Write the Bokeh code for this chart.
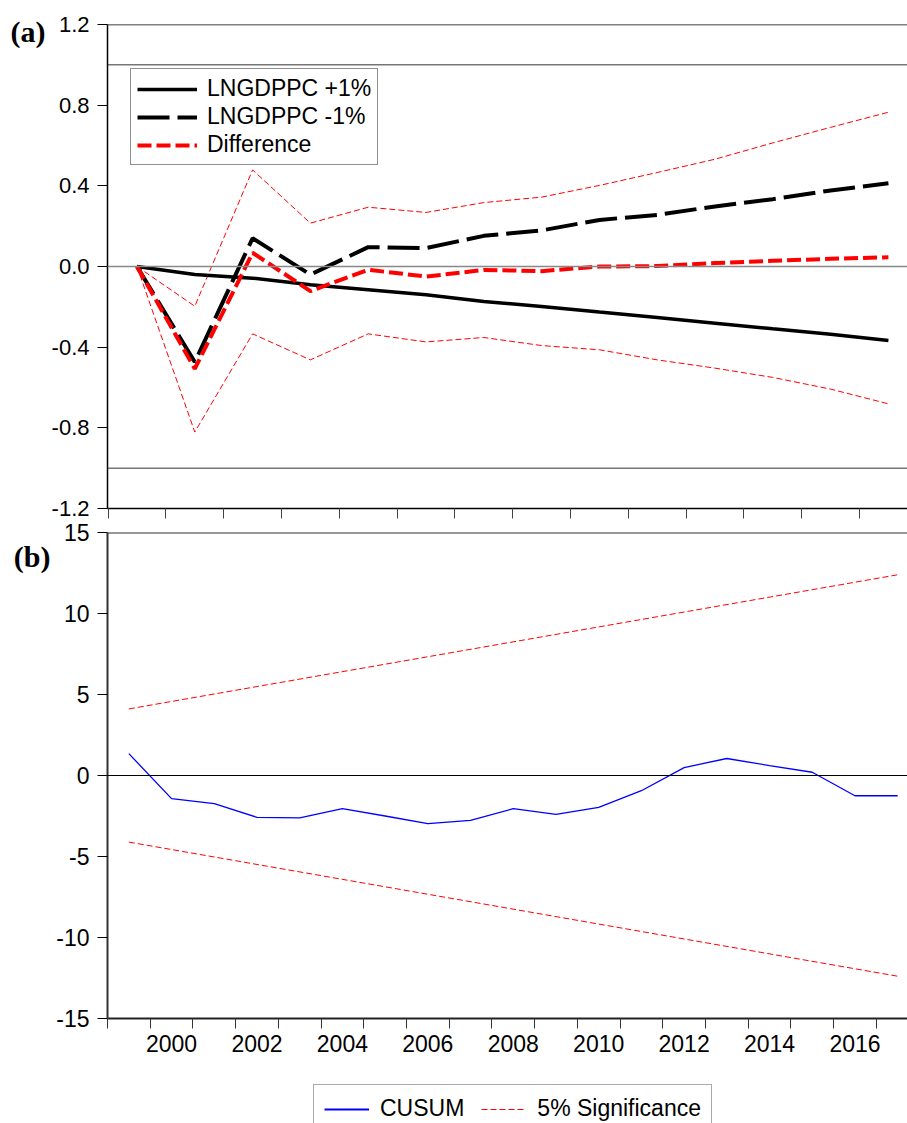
from bokeh.plotting import figure
from bokeh.layouts import column
from bokeh.models import (Range1d, FixedTicker, Span, Legend, LegendItem,
                          PrintfTickFormatter, LinearAxis)
from bokeh.embed import file_html
from bokeh.resources import INLINE

# ---------------- data: panel (a) ----------------
periods = [1, 2, 3, 4, 5, 6, 7, 8, 9, 10, 11, 12, 13, 14]
lngdppc_plus1 = [0.0, -0.040, -0.058, -0.090, -0.115, -0.140, -0.174, -0.198,
                 -0.226, -0.253, -0.281, -0.309, -0.336, -0.367]
lngdppc_minus1 = [0.0, -0.474, 0.140, -0.040, 0.096, 0.091, 0.152, 0.179,
                  0.231, 0.256, 0.298, 0.334, 0.377, 0.413]
difference = [0.0, -0.507, 0.068, -0.122, -0.016, -0.050, -0.017, -0.023,
              0.000, 0.002, 0.017, 0.028, 0.038, 0.046]
diff_upper = [0.0, -0.197, 0.479, 0.215, 0.294, 0.268, 0.317, 0.344,
              0.402, 0.466, 0.532, 0.613, 0.690, 0.765]
diff_lower = [0.0, -0.821, -0.334, -0.463, -0.334, -0.374, -0.352, -0.392,
              -0.413, -0.463, -0.504, -0.550, -0.608, -0.681]
a_yticks = [-1.2, -0.8, -0.4, 0.0, 0.4, 0.8, 1.2]
a_xbounds = [0.5, 1.5, 2.5, 3.5, 4.5, 5.5, 6.5, 7.5, 8.5, 9.5, 10.5, 11.5, 12.5, 13.5, 14.5]
a_refs = [1.0, -1.0]
a_tag, a_tag_y = "(a)", 1.165

# ---------------- data: panel (b) ----------------
years = [1999, 2000, 2001, 2002, 2003, 2004, 2005, 2006, 2007, 2008, 2009,
         2010, 2011, 2012, 2013, 2014, 2015, 2016, 2017]
cusum = [1.35, -1.43, -1.74, -2.58, -2.62, -2.05, -2.50, -2.97, -2.77, -2.05,
         -2.40, -1.97, -0.94, 0.49, 1.05, 0.61, 0.20, -1.25, -1.25]
sig_years = [1999, 2017]
sig_upper = [4.11, 12.39]
sig_lower = [-4.11, -12.39]
b_yticks = [-15, -10, -5, 0, 5, 10, 15]
b_year_bounds = list(range(1999, 2019))
b_label_years = [2000, 2002, 2004, 2006, 2008, 2010, 2012, 2014, 2016]
b_tag, b_tag_y = "(b)", 13.5

FONT = "Liberation Sans"
SERIF = "Liberation Serif"
FS = "23px"
RED = "#ff0000"
BLUE = "#0000ff"


def tag_axis(tag, ypos):
    return LinearAxis(ticker=FixedTicker(ticks=[ypos]),
                      major_label_overrides={ypos: tag},
                      axis_line_color=None, major_tick_line_color=None,
                      minor_tick_line_color=None, major_tick_in=0, major_tick_out=0,
                      major_label_standoff=3, major_label_text_font=SERIF,
                      major_label_text_font_style="bold",
                      major_label_text_font_size="30px",
                      major_label_text_color="black")


# ================= panel (a) =================
p1 = figure(width=907, height=520, output_backend="svg", toolbar_location=None,
            title=None,
            x_range=Range1d(0.49, 14.33), y_range=Range1d(-1.2, 1.2),
            min_border_left=107, min_border_right=0, min_border_top=24,
            min_border_bottom=12)
p1.outline_line_color = None
p1.grid.visible = False
p1.background_fill_color = "white"

r_up = p1.line(periods, diff_upper, line_color=RED, line_width=1, line_dash="6 3")
r_lo = p1.line(periods, diff_lower, line_color=RED, line_width=1, line_dash="6 3")
r_p = p1.line(periods, lngdppc_plus1, line_color="black", line_width=3.5)
r_m = p1.line(periods, lngdppc_minus1, line_color="black", line_width=4, line_dash="32 8")
r_d = p1.line(periods, difference, line_color=RED, line_width=4, line_dash="14 5")

p1.add_layout(Span(location=1.2, dimension="width", line_color="black", line_width=1.5))
for yv in a_refs:
    p1.add_layout(Span(location=yv, dimension="width", line_color="#333333", line_width=1))
p1.add_layout(Span(location=0.0, dimension="width", line_color="#888888", line_width=1.5))

p1.yaxis.ticker = FixedTicker(ticks=a_yticks)
p1.yaxis.formatter = PrintfTickFormatter(format="%.1f")
p1.yaxis.major_label_text_font = FONT
p1.yaxis.major_label_text_font_size = "22px"
p1.yaxis.major_label_text_color = "black"
p1.yaxis.major_tick_out = 10
p1.yaxis.major_tick_in = 0
p1.yaxis.minor_tick_line_color = None
p1.yaxis.major_label_standoff = 8
p1.yaxis.axis_line_width = 1.5
p1.yaxis.axis_line_color = "black"
p1.add_layout(tag_axis(a_tag, a_tag_y), "left")

p1.xaxis.ticker = FixedTicker(ticks=[], minor_ticks=a_xbounds)
p1.xaxis.minor_tick_out = 10
p1.xaxis.minor_tick_in = 0
p1.xaxis.minor_tick_line_color = "#444444"
p1.xaxis.major_tick_line_color = None
p1.xaxis.major_label_standoff = 0
p1.xaxis.axis_line_width = 1.5
p1.xaxis.axis_line_color = "black"

leg1 = Legend(items=[LegendItem(label="LNGDPPC +1%", renderers=[r_p]),
                     LegendItem(label="LNGDPPC -1%", renderers=[r_m]),
                     LegendItem(label="Difference", renderers=[r_d])],
              location=(23, 343), orientation="vertical",
              label_text_font=FONT, label_text_font_size=FS,
              label_text_color="black",
              glyph_width=60, glyph_height=22, label_height=22, label_standoff=10,
              spacing=1, padding=6, margin=0,
              border_line_color="#222222", border_line_width=1,
              background_fill_color="white", background_fill_alpha=1.0)
p1.add_layout(leg1)

# ================= panel (b) =================
p2 = figure(width=907, height=558, output_backend="svg", toolbar_location=None,
            title=None,
            x_range=Range1d(1999.0, 2017.73), y_range=Range1d(-15, 15),
            min_border_left=106, min_border_right=0, min_border_top=12,
            min_border_bottom=60)
p2.outline_line_color = None
p2.grid.visible = False
p2.background_fill_color = "white"

xs_mid = [y + 0.5 for y in years]
sig_mid = [y + 0.5 for y in sig_years]
p2.line(sig_mid, sig_upper, line_color=RED, line_width=1, line_dash="6 3")
p2.line(sig_mid, sig_lower, line_color=RED, line_width=1, line_dash="6 3")
p2.line(xs_mid, cusum, line_color=BLUE, line_width=1.3)

p2.add_layout(Span(location=15, dimension="width", line_color="#333333", line_width=2))
p2.add_layout(Span(location=0, dimension="width", line_color="black", line_width=1))

p2.yaxis.ticker = FixedTicker(ticks=b_yticks)
p2.yaxis.formatter = PrintfTickFormatter(format="%d")
p2.yaxis.major_label_text_font = FONT
p2.yaxis.major_label_text_font_size = FS
p2.yaxis.major_label_text_color = "black"
p2.yaxis.major_tick_out = 10
p2.yaxis.major_tick_in = 0
p2.yaxis.minor_tick_line_color = None
p2.yaxis.major_label_standoff = 8
p2.yaxis.axis_line_width = 2
p2.yaxis.axis_line_color = "#333333"
p2.add_layout(tag_axis(b_tag, b_tag_y), "left")

label_pos = [y + 0.5 for y in b_label_years]
p2.xaxis.ticker = FixedTicker(ticks=label_pos, minor_ticks=b_year_bounds)
p2.xaxis.major_label_overrides = {pos: str(yr) for pos, yr in zip(label_pos, b_label_years)}
p2.xaxis.major_tick_line_color = None
p2.xaxis.major_tick_out = 10
p2.xaxis.major_tick_in = 0
p2.xaxis.minor_tick_out = 10
p2.xaxis.minor_tick_in = 0
p2.xaxis.minor_tick_line_color = "#333333"
p2.xaxis.major_label_standoff = 6
p2.xaxis.major_label_text_font = FONT
p2.xaxis.major_label_text_font_size = FS
p2.xaxis.major_label_text_color = "black"
p2.xaxis.axis_line_width = 2
p2.xaxis.axis_line_color = "#222222"

# ================= legend strip under panel (b) =================
# proxy lines (same series, kept outside this strip's visible range) for the legend keys
p3 = figure(width=907, height=45, output_backend="svg", toolbar_location=None,
            title=None, x_axis_location=None, y_axis_location=None,
            x_range=Range1d(0, 1), y_range=Range1d(0, 1),
            min_border_left=0, min_border_right=0, min_border_top=0,
            min_border_bottom=0)
p3.outline_line_color = None
p3.grid.visible = False
p3.background_fill_color = "white"
k_c = p3.line(xs_mid, cusum, line_color=BLUE, line_width=2)
k_s = p3.line(sig_mid, sig_upper, line_color=RED, line_width=1, line_dash="6 3")
leg2 = Legend(items=[LegendItem(label="CUSUM", renderers=[k_c]),
                     LegendItem(label="5% Significance", renderers=[k_s])],
              location=(206, -10), orientation="horizontal",
              label_text_font=FONT, label_text_font_size=FS,
              label_text_color="black",
              glyph_width=45, glyph_height=22, label_height=22, label_standoff=11,
              spacing=17, padding=10, margin=0,
              border_line_color="#555555", border_line_width=1,
              background_fill_color="white", background_fill_alpha=1.0)
p3.add_layout(leg2)

layout = column(p1, p2, p3)
open("out.html", "w").write(file_html(layout, INLINE))
